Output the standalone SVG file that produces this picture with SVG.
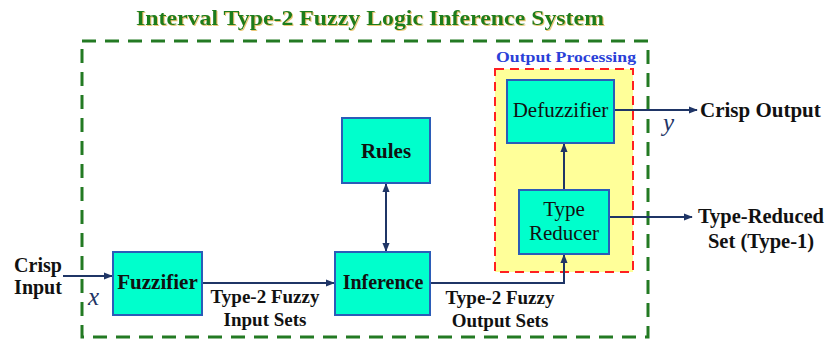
<svg xmlns="http://www.w3.org/2000/svg" width="828" height="339" viewBox="0 0 828 339">
<defs>
<marker id="ah" viewBox="0 0 10 10" refX="9" refY="5" markerWidth="9" markerHeight="9" markerUnits="userSpaceOnUse" orient="auto-start-reverse">
<path d="M0,1 L10,5 L0,9 z" fill="#1f3566"/>
</marker>
<filter id="glow" x="-5%" y="-20%" width="110%" height="140%">
<feDropShadow dx="1" dy="1" stdDeviation="0.6" flood-color="#e0b040" flood-opacity="0.7"/>
</filter>
</defs>
<style>
.box{fill:#00ffcc;stroke:#2b5cb8;stroke-width:2}
.lbl{font-family:"Liberation Serif","Times New Roman",serif;font-weight:bold;fill:#111;text-anchor:middle}
.node{font-family:"Liberation Serif","Times New Roman",serif;font-weight:bold;fill:#111;text-anchor:middle;font-size:20px}
.node2{font-family:"Liberation Serif","Times New Roman",serif;font-weight:normal;fill:#111;text-anchor:middle;font-size:21px}
.var{font-family:"Liberation Serif","Times New Roman",serif;font-style:italic;fill:#1f3566;font-size:25px}
.conn{stroke:#1f3566;stroke-width:2;fill:none}
</style>
<rect width="828" height="339" fill="#fff"/>
<text x="370" y="25" class="lbl" style="font-size:22px;fill:#1e7d1e" textLength="468" lengthAdjust="spacingAndGlyphs" filter="url(#glow)">Interval Type-2 Fuzzy Logic Inference System</text>
<rect x="82" y="41" width="566" height="296" fill="none" stroke="#237a23" stroke-width="3" stroke-dasharray="14,9"/>
<g id="output-processing">
<rect x="495" y="69" width="138" height="203" fill="#ffff99" stroke="#ff2020" stroke-width="2" stroke-dasharray="9,6"/>
<text x="566" y="62" class="lbl" style="font-size:15px;fill:#2a3fd8" textLength="140" lengthAdjust="spacingAndGlyphs">Output Processing</text>
</g>
<g id="connectors">
<path class="conn" d="M63,276 H112" marker-end="url(#ah)"/>
<path class="conn" d="M202,283 H334" marker-end="url(#ah)"/>
<path class="conn" d="M386,184 V251" marker-start="url(#ah)" marker-end="url(#ah)"/>
<path class="conn" d="M430,283 H564 V255" marker-end="url(#ah)"/>
<path class="conn" d="M564,190 V144" marker-end="url(#ah)"/>
<path class="conn" d="M614,110 H697" marker-end="url(#ah)"/>
<path class="conn" d="M609,217 H692" marker-end="url(#ah)"/>
</g>
<g id="crisp-input">
<text x="38" y="272" class="lbl" style="font-size:20px">Crisp</text>
<text x="38" y="294" class="lbl" style="font-size:20px">Input</text>
<text x="88" y="305" class="var">x</text>
</g>
<g id="fuzzifier">
<rect x="113" y="252" width="89" height="63" class="box"/>
<text x="157.5" y="289" class="node" style="font-size:21px">Fuzzifier</text>
</g>
<g id="input-sets-label">
<text x="265" y="303" class="lbl" style="font-size:19px">Type-2 Fuzzy</text>
<text x="265" y="326" class="lbl" style="font-size:19px">Input Sets</text>
</g>
<g id="rules">
<rect x="342" y="118" width="88" height="65" class="box"/>
<text x="386" y="158" class="node" style="font-size:21px">Rules</text>
</g>
<g id="inference">
<rect x="335" y="252" width="95" height="63" class="box"/>
<text x="383" y="289" class="node">Inference</text>
</g>
<g id="output-sets-label">
<text x="500" y="304" class="lbl" style="font-size:19px">Type-2 Fuzzy</text>
<text x="500" y="327" class="lbl" style="font-size:19px">Output Sets</text>
</g>
<g id="type-reducer">
<rect x="519" y="190" width="90" height="64" class="box"/>
<text x="564" y="216" class="node2">Type</text>
<text x="564" y="240" class="node2">Reducer</text>
</g>
<g id="defuzzifier">
<rect x="507" y="80" width="107" height="63" class="box"/>
<text x="560.5" y="117" class="node2">Defuzzifier</text>
</g>
<g id="crisp-output">
<text x="700" y="117" class="lbl" style="font-size:21px;text-anchor:start">Crisp Output</text>
<text x="663" y="131" class="var">y</text>
</g>
<g id="type-reduced-set">
<text x="761" y="223" class="lbl" style="font-size:20.5px">Type-Reduced</text>
<text x="761" y="248" class="lbl" style="font-size:20.5px">Set (Type-1)</text>
</g>
</svg>
